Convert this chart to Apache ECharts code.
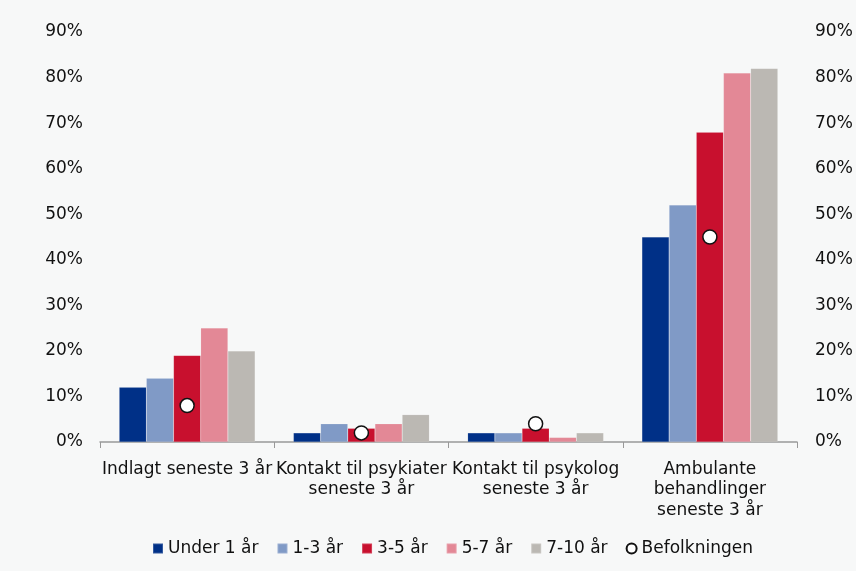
<!DOCTYPE html>
<html><head><meta charset="utf-8">
<script src="https://cdn.jsdelivr.net/npm/echarts@6/dist/echarts.min.js"></script>
<style>html,body{margin:0;padding:0;background:#f7f8f8;}#c{width:856px;height:571px;}</style>
</head><body><div id="c"></div>
<script>
const categories = ["Indlagt seneste 3 år", "Kontakt til psykiater\nseneste 3 år", "Kontakt til psykolog\nseneste 3 år", "Ambulante\nbehandlinger\nseneste 3 år"];
const under1 = [12, 2, 2, 45];
const y1to3 = [14, 4, 2, 52];
const y3to5 = [19, 3, 3, 68];
const y5to7 = [25, 4, 1, 81];
const y7to10 = [20, 6, 2, 82];
const befolkningen = [8, 2, 4, 45];
const yTicks = [0, 10, 20, 30, 40, 50, 60, 70, 80, 90];

const font = "DejaVu Sans, Verdana, sans-serif";
const chart = echarts.init(document.getElementById('c'));
function bar(name, data, color) {
  return { name, type: 'bar', data, barGap: '0%', barCategoryGap: '22%',
    itemStyle: { color, borderColor: 'rgba(255,255,255,0.2)', borderWidth: 0.5 }, yAxisIndex: 0 };
}
chart.setOption({
  backgroundColor: '#f7f8f8',
  animation: false,
  grid: { left: 100, right: 59, top: 32, bottom: 129 },
  legend: {
    bottom: 9, left: 147, itemWidth: 10, itemHeight: 10, itemGap: 18,
    textStyle: { fontFamily: font, fontSize: 17, color: '#111' },
    data: [
      { name: 'Under 1 år', icon: 'rect' }, { name: '1-3 år', icon: 'rect' }, { name: '3-5 år', icon: 'rect' },
      { name: '5-7 år', icon: 'rect' }, { name: '7-10 år', icon: 'rect' }, { name: 'Befolkningen', icon: 'circle' }
    ]
  },
  xAxis: {
    type: 'category', data: categories,
    axisLine: { lineStyle: { color: '#999', width: 1.5 } },
    axisTick: { show: true, length: 6, lineStyle: { color: '#999' } },
    axisLabel: { fontFamily: font, fontSize: 17, color: '#111', interval: 0, lineHeight: 20.5, margin: 17 }
  },
  yAxis: [
    { type: 'value', min: 0, max: 90, interval: 10, splitLine: { show: false },
      axisLine: { show: false }, axisTick: { show: false },
      axisLabel: { formatter: v => yTicks.includes(v) ? v + '%' : '', fontFamily: font, fontSize: 17, color: '#111', margin: 17 } },
    { type: 'value', min: 0, max: 90, interval: 10, splitLine: { show: false }, position: 'right',
      axisLine: { show: false }, axisTick: { show: false },
      axisLabel: { formatter: v => yTicks.includes(v) ? v + '%' : '', fontFamily: font, fontSize: 17, color: '#111', margin: 18 } }
  ],
  series: [
    bar('Under 1 år', under1, '#003087'),
    bar('1-3 år', y1to3, '#809ac6'),
    bar('3-5 år', y3to5, '#c8102e'),
    bar('5-7 år', y5to7, '#e38896'),
    bar('7-10 år', y7to10, '#bbb8b3'),
    { name: 'Befolkningen', type: 'scatter', data: befolkningen, symbol: 'circle', symbolSize: 14, z: 5,
      itemStyle: { color: '#ffffff', borderColor: '#111', borderWidth: 1.5, opacity: 1 } }
  ]
});
</script></body></html>
